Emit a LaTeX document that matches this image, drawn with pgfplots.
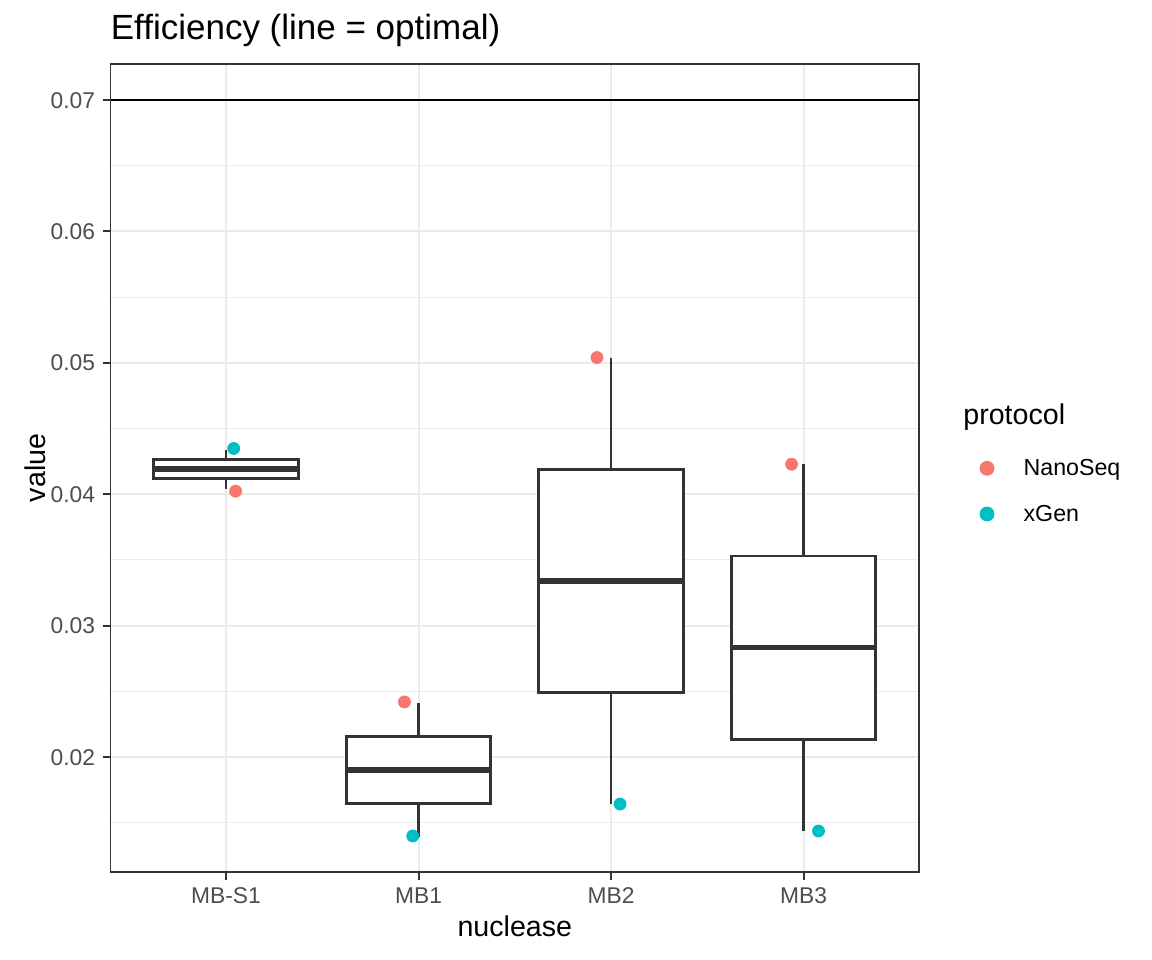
\documentclass[border=0pt]{standalone}
\usepackage{fontspec}
\setmainfont{Liberation Sans}
\usepackage{pgfplots}
\pgfplotsset{compat=1.18}
\usepgfplotslibrary{statistics}

\definecolor{nano}{HTML}{F8766D}
\definecolor{xgen}{HTML}{00BFC4}
\definecolor{gridc}{HTML}{EBEBEB}
\definecolor{gray20}{HTML}{333333}
\definecolor{gray30}{HTML}{4D4D4D}

\newcommand{\ticksize}{\fontsize{11.4bp}{13bp}\selectfont}
\newcommand{\legsize}{\fontsize{11.6bp}{13bp}\selectfont}
\newcommand{\labsize}{\fontsize{14.3bp}{16bp}\selectfont}

\begin{document}
\begin{tikzpicture}
\path[use as bounding box] (0,0) rectangle (576bp,480bp);
\begin{axis}[
    at={(55.25bp,44bp)}, anchor=south west,
    scale only axis, width=404.25bp, height=404bp,
    xmin=0.4, xmax=4.6, ymin=0.01125, ymax=0.07274,
    xtick={1,2,3,4}, xticklabels={MB-S1,MB1,MB2,MB3},
    ytick={0.02,0.03,0.04,0.05,0.06,0.07},
    yticklabels={0.02,0.03,0.04,0.05,0.06,0.07},
    minor ytick={0.015,0.025,0.035,0.045,0.055,0.065},
    scaled y ticks=false,
    xmajorgrids, ymajorgrids, yminorgrids,
    major grid style={draw=gridc, line width=1bp},
    minor grid style={draw=gridc, line width=0.5bp},
    axis line style={draw=gray20, line width=0.6bp},
    tick style={draw=gray20, line width=1bp},
    tick align=outside, tick pos=left,
    major tick length=4bp, minor tick length=0pt,
    tick label style={font=\ticksize, text=gray30},
    xticklabel style={anchor=base, inner sep=0pt, yshift=-12bp},
    yticklabel style={anchor=east, inner sep=0pt, text height=8.1bp, text depth=0pt, xshift=-3.5bp},
    legend style={at={(axis description cs:1.075,0.511)}, anchor=north west,
        draw=none, fill=none, inner sep=0pt, row sep=12.85bp,
        nodes={inner sep=0pt, text height=8bp, text depth=2bp, font=\legsize, anchor=base west},
        /tikz/every odd column/.append style={column sep=14.8bp}},
    legend cell align=left,
    legend image code/.code={\draw[mark repeat=1,mark phase=1,#1,mark size=3.5bp] plot coordinates {(0bp,3.6bp)};},
    boxplot/draw direction=y,
    boxplot/box extend=0.75,
    boxplot/whisker extend=0,
    boxplot/every median/.style={line width=2.9bp},
]
% boxes: two values per nuclease, quartiles as ggplot computes them
\addplot[forget plot, draw=gray20, fill=white, line width=1.45bp,
    boxplot prepared={draw position=1, lower whisker=0.04043, lower quartile=0.04117,
        median=0.04192, upper quartile=0.04266, upper whisker=0.04340}] coordinates {};
\addplot[forget plot, draw=gray20, fill=white, line width=1.45bp,
    boxplot prepared={draw position=2, lower whisker=0.01393, lower quartile=0.01648,
        median=0.01902, upper quartile=0.02157, upper whisker=0.02411}] coordinates {};
\addplot[forget plot, draw=gray20, fill=white, line width=1.45bp,
    boxplot prepared={draw position=3, lower whisker=0.01642, lower quartile=0.02492,
        median=0.03341, upper quartile=0.04190, upper whisker=0.05040}] coordinates {};
\addplot[forget plot, draw=gray20, fill=white, line width=1.45bp,
    boxplot prepared={draw position=4, lower whisker=0.01437, lower quartile=0.02135,
        median=0.02833, upper quartile=0.03530, upper whisker=0.04228}] coordinates {};

% jittered points
\addplot[only marks, mark=*, mark size=3bp, color=nano]
    coordinates {(1.050,0.04023) (1.927,0.02419) (2.927,0.05040) (3.938,0.04228)};
\addlegendentry{NanoSeq}
\addplot[only marks, mark=*, mark size=3bp, color=xgen]
    coordinates {(1.040,0.04348) (1.970,0.01399) (3.047,0.01642) (4.078,0.01437)};
\addlegendentry{xGen}

% optimal line
\addplot[forget plot, black, line width=1.4bp] coordinates {(0.4,0.07) (4.6,0.07)};
\end{axis}

\node[anchor=base west, inner sep=0pt, font=\fontsize{17.5bp}{20bp}\selectfont]
    at (55.25bp,460.25bp) {Efficiency (line = optimal)};
\node[rotate=90, anchor=base, inner sep=0pt, font=\labsize] at (22.5bp,246bp) {value};
\node[anchor=base, inner sep=0pt, font=\labsize] at (257.4bp,11.6bp) {nuclease};
\node[anchor=base west, inner sep=0pt, font=\labsize] at (481.5bp,267.5bp) {protocol};
\end{tikzpicture}
\end{document}
